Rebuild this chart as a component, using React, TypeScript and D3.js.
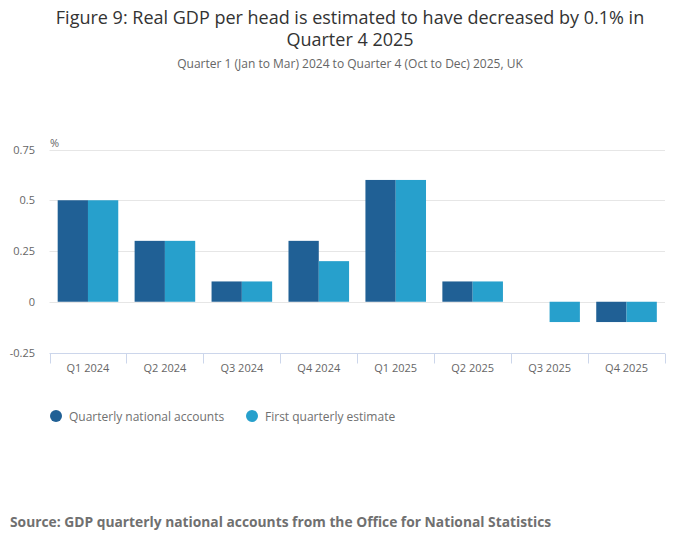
import * as d3 from 'd3';
import * as React from 'react';

const quarters = ['Q1 2024', 'Q2 2024', 'Q3 2024', 'Q4 2024', 'Q1 2025', 'Q2 2025', 'Q3 2025', 'Q4 2025'];
const quarterlyNationalAccounts = [0.5, 0.3, 0.1, 0.3, 0.6, 0.1, 0, -0.1];
const firstQuarterlyEstimate = [0.5, 0.3, 0.1, 0.2, 0.6, 0.1, -0.1, -0.1];
const yTicks = [-0.25, 0, 0.25, 0.5, 0.75];
const seriesNames = ['Quarterly national accounts', 'First quarterly estimate'];
const seriesColors = ['#206095', '#27a0cc'];

const W = 700;
const H = 549;
const FONT = '"Open Sans", sans-serif';

const App = () => {
  const ref = React.useRef<SVGSVGElement | null>(null);

  React.useEffect(() => {
    if (!ref.current) return;
    const svg = d3.select(ref.current);
    svg.selectAll('*').remove();

    const left = 49.5;
    const right = 665;
    const x = d3.scaleBand().domain(quarters).range([left, right]).paddingInner(0).paddingOuter(0);
    const x1 = d3.scaleBand().domain(['0', '1']).range([0, x.bandwidth()]).paddingOuter(0.27).paddingInner(0);
    const y = d3.scaleLinear().domain([-0.25, 0.75]).range([352.5, 149.5]);

    // title
    svg.append('text').attr('x', W / 2).attr('y', 24).attr('text-anchor', 'middle')
      .style('font-family', FONT).style('font-size', '18px').style('fill', '#333333')
      .text('Figure 9: Real GDP per head is estimated to have decreased by 0.1% in');
    svg.append('text').attr('x', W / 2).attr('y', 46).attr('text-anchor', 'middle')
      .style('font-family', FONT).style('font-size', '18px').style('fill', '#333333')
      .text('Quarter 4 2025');
    svg.append('text').attr('x', W / 2).attr('y', 68).attr('text-anchor', 'middle')
      .style('font-family', FONT).style('font-size', '12px').style('fill', '#666666')
      .text('Quarter 1 (Jan to Mar) 2024 to Quarter 4 (Oct to Dec) 2025, UK');

    // grid
    yTicks.forEach((t) => {
      if (t !== -0.25) {
        svg.append('line').attr('x1', left).attr('x2', right)
          .attr('y1', Math.round(y(t)) + 0.5).attr('y2', Math.round(y(t)) + 0.5)
          .attr('stroke', '#e6e6e6').attr('stroke-width', 1);
      }
      svg.append('text').attr('x', 35).attr('y', y(t) + 4).attr('text-anchor', 'end')
        .style('font-family', FONT).style('font-size', '11px').style('fill', '#666666')
        .text(String(t));
    });

    svg.append('text').attr('x', 50).attr('y', 147)
      .style('font-family', FONT).style('font-size', '11px').style('fill', '#666666').text('%');

    // bars
    const data = [quarterlyNationalAccounts, firstQuarterlyEstimate];
    data.forEach((series, si) => {
      svg.append('g').selectAll('rect').data(series).enter().append('rect')
        .attr('x', (d, i) => (x(quarters[i]) as number) + (x1(String(si)) as number))
        .attr('width', x1.bandwidth())
        .attr('y', (d) => y(Math.max(0, d)))
        .attr('height', (d) => Math.abs(y(d) - y(0)))
        .attr('fill', seriesColors[si]);
    });

    // x axis
    const axisY = Math.round(y(-0.25)) + 0.5;
    svg.append('line').attr('x1', left).attr('x2', right).attr('y1', axisY).attr('y2', axisY)
      .attr('stroke', '#ccd6eb').attr('stroke-width', 1);
    const bounds = quarters.map((q) => x(q) as number).concat([right]);
    bounds.forEach((b) => {
      const bx = Math.round(b) + 0.5;
      svg.append('line').attr('x1', bx).attr('x2', bx).attr('y1', axisY).attr('y2', axisY + 10)
        .attr('stroke', '#ccd6eb').attr('stroke-width', 1);
    });
    quarters.forEach((q) => {
      svg.append('text').attr('x', (x(q) as number) + x.bandwidth() / 2).attr('y', 372)
        .attr('text-anchor', 'middle')
        .style('font-family', FONT).style('font-size', '11px').style('fill', '#666666').text(q);
    });

    // legend
    const legendX = [56, 252];
    seriesNames.forEach((name, i) => {
      svg.append('circle').attr('cx', legendX[i]).attr('cy', 416).attr('r', 6).attr('fill', seriesColors[i]);
      svg.append('text').attr('x', legendX[i] + 13).attr('y', 420.5)
        .style('font-family', FONT).style('font-size', '12px').style('fill', '#707070').text(name);
    });

    // source
    svg.append('text').attr('x', 10).attr('y', 527)
      .style('font-family', FONT).style('font-size', '13.8px').style('font-weight', 'bold').style('fill', '#707070')
      .text('Source: GDP quarterly national accounts from the Office for National Statistics');
  }, []);

  return (
    <svg ref={ref} width={W} height={H} style={{ position: 'absolute', left: 0, top: 0, background: '#fff' }} />
  );
};

export default App;
